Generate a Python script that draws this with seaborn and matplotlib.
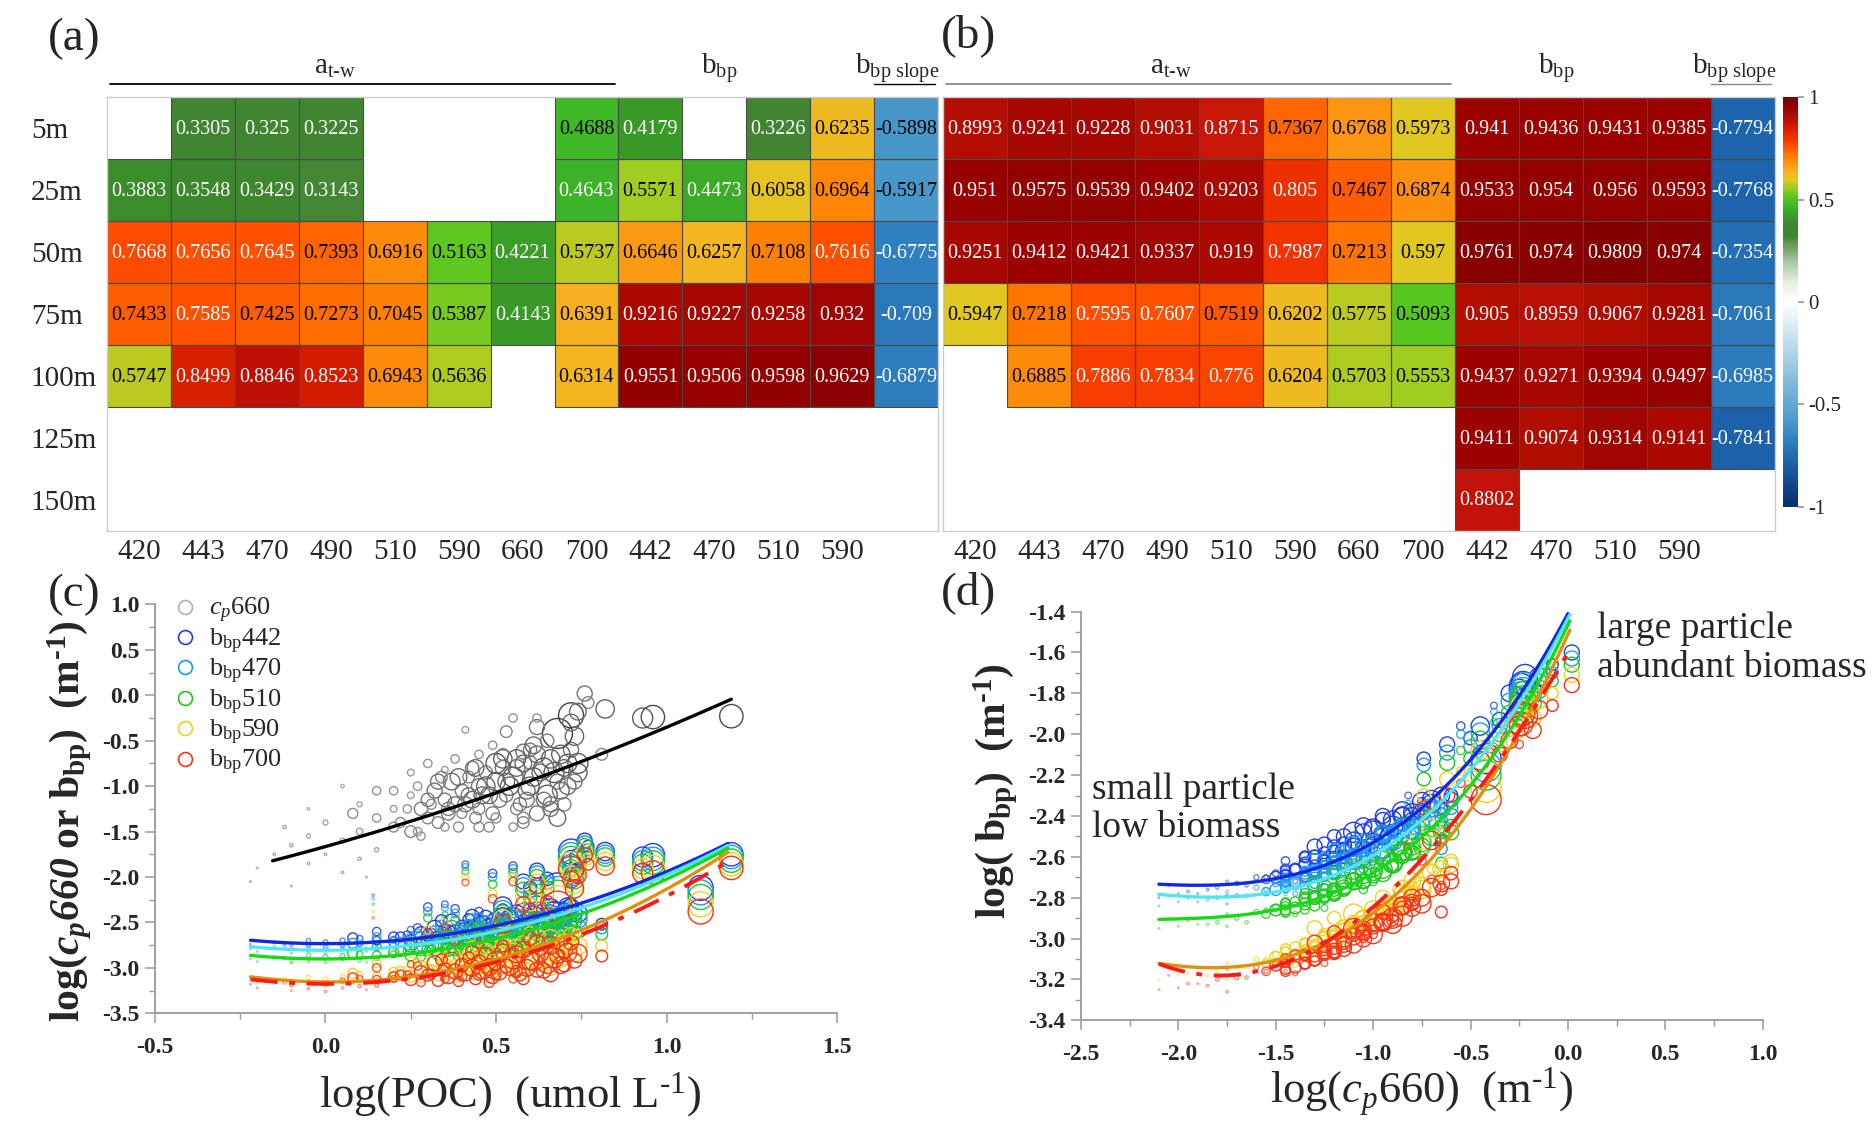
import numpy as np
import pandas as pd
import matplotlib
matplotlib.use("Agg")
import matplotlib.pyplot as plt
import seaborn as sns
from matplotlib.colors import LinearSegmentedColormap, to_rgba
from matplotlib.lines import Line2D
from matplotlib.patches import Rectangle
from matplotlib.ticker import MultipleLocator, FormatStrFormatter
from matplotlib.transforms import blended_transform_factory

sns.set_theme(style="ticks")
plt.rcParams["font.family"] = ["Liberation Serif", "DejaVu Serif"]
plt.rcParams["mathtext.fontset"] = "custom"
plt.rcParams["mathtext.rm"] = "Liberation Serif"
plt.rcParams["mathtext.it"] = "Liberation Serif:italic"
plt.rcParams["mathtext.bf"] = "Liberation Serif:bold"
plt.rcParams["mathtext.bfit"] = "Liberation Serif:bold:italic"
plt.rcParams["axes.unicode_minus"] = False

# ---------------- heatmap data ----------------
depths = ["5m", "25m", "50m", "75m", "100m", "125m", "150m"]
wl_labels = ["420", "443", "470", "490", "510", "590", "660", "700",
             "442", "470", "510", "590"]
NA = np.nan
corr_a = [
    [NA, 0.3305, 0.325, 0.3225, NA, NA, NA, 0.4688, 0.4179, NA, 0.3226, 0.6235, -0.5898],
    [0.3883, 0.3548, 0.3429, 0.3143, NA, NA, NA, 0.4643, 0.5571, 0.4473, 0.6058, 0.6964, -0.5917],
    [0.7668, 0.7656, 0.7645, 0.7393, 0.6916, 0.5163, 0.4221, 0.5737, 0.6646, 0.6257, 0.7108, 0.7616, -0.6775],
    [0.7433, 0.7585, 0.7425, 0.7273, 0.7045, 0.5387, 0.4143, 0.6391, 0.9216, 0.9227, 0.9258, 0.932, -0.709],
    [0.5747, 0.8499, 0.8846, 0.8523, 0.6943, 0.5636, NA, 0.6314, 0.9551, 0.9506, 0.9598, 0.9629, -0.6879],
    [NA] * 13,
    [NA] * 13,
]
corr_b = [
    [0.8993, 0.9241, 0.9228, 0.9031, 0.8715, 0.7367, 0.6768, 0.5973, 0.941, 0.9436, 0.9431, 0.9385, -0.7794],
    [0.951, 0.9575, 0.9539, 0.9402, 0.9203, 0.805, 0.7467, 0.6874, 0.9533, 0.954, 0.956, 0.9593, -0.7768],
    [0.9251, 0.9412, 0.9421, 0.9337, 0.919, 0.7987, 0.7213, 0.597, 0.9761, 0.974, 0.9809, 0.974, -0.7354],
    [0.5947, 0.7218, 0.7595, 0.7607, 0.7519, 0.6202, 0.5775, 0.5093, 0.905, 0.8959, 0.9067, 0.9281, -0.7061],
    [NA, 0.6885, 0.7886, 0.7834, 0.776, 0.6204, 0.5703, 0.5553, 0.9437, 0.9271, 0.9394, 0.9497, -0.6985],
    [NA, NA, NA, NA, NA, NA, NA, NA, 0.9411, 0.9074, 0.9314, 0.9141, -0.7841],
    [NA, NA, NA, NA, NA, NA, NA, NA, 0.8802, NA, NA, NA, NA],
]

# ---------------- scatter data (one entry per sample) ----------------
poc = [-0.22, -0.20, -0.15, -0.10, -0.10, -0.05, -0.05, 0.00, 0.00, 0.05, 0.05, 0.10, 0.10, 0.15, 0.15, 0.20, 0.20, 0.08, -0.12, 0.12, 0.14,
       0.22, 0.25, 0.25, 0.28, 0.30, 0.30, 0.32, 0.35, 0.35, 0.37, 0.38, 0.40, 0.40, 0.42, 0.43, 0.45, 0.45, 0.47, 0.48, 0.50,
       0.50, 0.52, 0.53, 0.55, 0.56, 0.58, 0.60, 0.60, 0.62, 0.63, 0.65, 0.66, 0.68, 0.70, 0.70, 0.72, 0.74, 0.45, 0.15, 0.55,
       0.76, 0.82, 0.72, 0.73, 0.93, 0.96, 1.19, 1.10, 0.68, 0.55, 0.62, 0.52, 0.41, 0.49, 0.58, 0.81, 0.77, 0.72, 0.65, 0.60, 0.35, 0.74]
cp660 = [-2.05, -1.90, -1.75, -2.10, -1.65, -1.55, -1.85, -1.40, -1.75, -1.60, -1.95, -1.50, -1.80, -1.35, -1.70, -1.45, -1.25, -1.30, -1.45, -2.00, NA,
         -1.40, -1.10, -1.50, -1.25, -0.75, -1.35, -1.05, -1.15, -1.45, -0.95, -1.20, -1.05, -1.30, -0.90, -1.15, -1.00, -1.25, -0.85, -1.10, -0.95,
         -1.35, -0.80, -1.10, -0.90, -1.25, -0.75, -1.00, -0.60, -1.30, -0.85, -1.10, -0.70, -0.95, -0.80, -1.20, -0.60, -0.85, -0.65, -1.05, -1.45,
         0.02, -0.15, -0.22, -0.45, -0.25, -0.24, -0.23, NA, -0.42, -0.25, -0.35, -0.70, -0.38, -0.55, -0.62, -0.65, -0.08, -0.30, -0.50, -0.74, -0.82, -0.18]
dia = [2, 2, 3, 2, 4, 5, 3, 6, 3, 6, 3, 8, 4, 10, 5, 12, 8, 12, 4, 2, 3,
       12, 8, 14, 16, 10, 14, 18, 16, 10, 20, 18, 16, 12, 14, 20, 18, 14, 16, 20, 22,
       12, 18, 16, 24, 14, 20, 22, 16, 18, 20, 24, 22, 18, 20, 16, 18, 22, 10, 10, 10,
       18, 22, 30, 22, 24, 28, 28, 30, 36, 10, 18, 22, 8, 10, 18, 14, 14, 20, 16, 16, 8, 20]
b442 = [-2.74, -2.78, -2.72, -2.80, -2.74, -2.70, -2.76, -2.72, -2.79, -2.70, -2.77, -2.68, -2.75, -2.70, -2.73, -2.66, -2.69, -2.67, -2.73, -2.78, -2.20,
        -2.66, -2.58, -2.70, -2.62, -2.33, -2.64, -2.56, -2.60, -2.68, -2.50, -2.61, -2.55, -2.64, -2.47, -2.57, -2.52, -2.62, -2.44, -2.55, -2.49,
        -2.60, -2.42, -2.53, -2.45, -2.58, -2.38, -2.47, -2.30, -2.55, -2.40, -2.48, -2.34, -2.42, -2.38, -2.50, -2.32, -2.40, -2.38, -2.60, -2.62,
        -1.60, -1.72, -1.72, -1.96, -1.78, -1.76, -1.75, -2.12, -2.12, -1.88, -1.93, -2.32, -1.86, -1.96, -2.05, -2.52, -1.66, -1.80, -2.02, -2.12, -2.30, -1.78]
b470 = [-2.79, -2.82, -2.77, -2.84, -2.79, -2.76, -2.81, -2.78, -2.83, -2.75, -2.80, -2.73, -2.80, -2.76, -2.79, -2.72, -2.75, -2.73, -2.78, -2.82, -2.24,
        -2.72, -2.64, -2.76, -2.68, -2.38, -2.70, -2.62, -2.66, -2.73, -2.57, -2.67, -2.61, -2.70, -2.53, -2.63, -2.58, -2.68, -2.50, -2.62, -2.56,
        -2.67, -2.48, -2.60, -2.52, -2.65, -2.45, -2.54, -2.36, -2.62, -2.47, -2.55, -2.41, -2.49, -2.45, -2.57, -2.40, -2.46, -2.44, -2.66, -2.70,
        -1.63, -1.75, -1.76, -1.99, -1.82, -1.80, -1.78, -2.17, -2.16, -1.91, -1.96, -2.36, -1.89, -2.00, -2.09, -2.56, -1.70, -1.84, -2.06, -2.15, -2.34, -1.81]
b510 = [-2.90, -2.93, -2.88, -2.95, -2.92, -2.86, -2.93, -2.88, -2.94, -2.87, -2.91, -2.85, -2.92, -2.86, -2.90, -2.83, -2.85, -2.84, -2.89, -2.94, -2.30,
        -2.82, -2.74, -2.86, -2.79, -2.45, -2.80, -2.72, -2.76, -2.84, -2.68, -2.78, -2.72, -2.80, -2.64, -2.74, -2.69, -2.79, -2.60, -2.72, -2.66,
        -2.78, -2.58, -2.71, -2.63, -2.76, -2.55, -2.65, -2.45, -2.73, -2.58, -2.66, -2.50, -2.60, -2.55, -2.68, -2.48, -2.57, -2.52, -2.76, -2.82,
        -1.66, -1.78, -1.80, -2.03, -1.86, -1.84, -1.82, -2.22, -2.20, -1.95, -2.00, -2.41, -1.94, -2.08, -2.14, -2.63, -1.74, -1.90, -2.12, -2.22, -2.42, -1.85]
b590 = [-3.13, -3.17, -3.12, -3.20, -3.14, -3.10, -3.18, -3.13, -3.20, -3.10, -3.17, -3.08, -3.16, -3.09, -3.14, -3.05, -3.07, -3.06, -3.12, -3.18, -2.38,
        -3.04, -2.92, -3.09, -3.00, -2.58, -3.03, -2.90, -2.96, -3.06, -2.86, -2.99, -2.92, -3.03, -2.84, -2.95, -2.88, -3.01, -2.80, -2.93, -2.86,
        -3.02, -2.76, -2.92, -2.84, -2.98, -2.74, -2.86, -2.62, -2.95, -2.78, -2.88, -2.68, -2.80, -2.72, -2.90, -2.64, -2.76, -2.68, -2.95, -3.06,
        -1.71, -1.83, -1.86, -2.08, -1.91, -1.89, -1.86, -2.30, -2.26, -2.00, -2.05, -2.46, -2.00, -2.18, -2.22, -2.76, -1.80, -1.97, -2.20, -2.30, -2.50, -1.92]
b700 = [-3.18, -3.22, -3.15, -3.25, -3.19, -3.16, -3.23, -3.17, -3.26, -3.14, -3.22, -3.12, -3.20, -3.13, -3.19, -3.10, -3.12, -3.11, -3.16, -3.24, -2.45,
        -3.08, -2.96, -3.13, -3.05, -2.62, -3.08, -2.95, -3.02, -3.12, -2.92, -3.04, -2.97, -3.09, -2.89, -3.00, -2.94, -3.07, -2.85, -2.99, -2.92,
        -3.08, -2.82, -2.98, -2.90, -3.04, -2.80, -2.92, -2.68, -3.02, -2.84, -2.95, -2.75, -2.87, -2.80, -2.97, -2.72, -2.84, -2.74, -3.00, -3.12,
        -1.76, -1.88, -1.91, -2.13, -1.96, -1.95, -1.90, -2.38, -2.32, -2.05, -2.10, -2.52, -2.06, -2.24, -2.30, -2.87, -1.86, -2.03, -2.28, -2.36, -2.55, -1.98]

# extra samples of the dense middle cloud
poc_x = [0.28, 0.33, 0.36, 0.39, 0.41, 0.44, 0.46, 0.49, 0.51, 0.54, 0.57, 0.59, 0.61, 0.64, 0.67,
         0.69, 0.71, 0.73, 0.31, 0.27, 0.43, 0.52, 0.38, 0.62, 0.48, 0.58, 0.66, 0.24, 0.34, 0.56]
cp660_x = [-1.55, -1.40, -1.30, -1.45, -1.20, -1.35, -1.10, -1.30, -1.15, -1.00, -1.20, -1.05, -0.90, -1.15, -0.85,
           -1.05, -0.75, -0.95, -1.20, -1.00, -0.80, -0.65, -0.70, -0.65, -1.45, -1.35, -1.25, -1.25, -0.90, -0.80]
dia_x = [10, 14, 16, 12, 18, 14, 20, 16, 18, 22, 16, 20, 22, 18, 24, 20, 22, 18, 12, 10, 16, 14, 10, 20, 12, 14, 18, 10, 14, 20]
b442_x = [-2.71, -2.66, -2.60, -2.69, -2.58, -2.63, -2.52, -2.60, -2.54, -2.46, -2.55, -2.48, -2.42, -2.50, -2.38,
          -2.45, -2.33, -2.40, -2.62, -2.56, -2.43, -2.36, -2.35, -2.30, -2.67, -2.60, -2.54, -2.64, -2.48, -2.40]
b470_x = [-2.77, -2.73, -2.68, -2.75, -2.65, -2.70, -2.60, -2.67, -2.62, -2.54, -2.63, -2.56, -2.50, -2.58, -2.46,
          -2.53, -2.41, -2.48, -2.68, -2.62, -2.48, -2.42, -2.40, -2.37, -2.74, -2.68, -2.62, -2.70, -2.54, -2.47]
b510_x = [-2.88, -2.85, -2.80, -2.87, -2.77, -2.83, -2.72, -2.80, -2.75, -2.67, -2.76, -2.69, -2.63, -2.71, -2.58,
          -2.66, -2.53, -2.61, -2.79, -2.72, -2.58, -2.51, -2.48, -2.47, -2.86, -2.81, -2.75, -2.81, -2.65, -2.57]
b590_x = [-3.12, -3.08, -3.05, -3.10, -3.00, -3.07, -2.97, -3.04, -2.99, -2.92, -3.01, -2.93, -2.87, -2.96, -2.82,
          -2.90, -2.76, -2.85, -3.02, -2.93, -2.78, -2.70, -2.66, -2.66, -3.11, -3.06, -3.00, -3.03, -2.86, -2.78]
b700_x = [-3.16, -3.14, -3.10, -3.15, -3.06, -3.12, -3.03, -3.10, -3.05, -2.98, -3.07, -3.00, -2.93, -3.03, -2.89,
          -2.97, -2.83, -2.92, -3.07, -2.98, -2.83, -2.76, -2.71, -2.73, -3.16, -3.12, -3.07, -3.08, -2.91, -2.85]

# samples with c_p(660) only
poc_g = [0.20, 0.25, 0.30, 0.33, 0.36, 0.39, 0.42, 0.44, 0.47, 0.50, 0.53, 0.56, 0.59, 0.61, 0.64,
         0.66, 0.69, 0.71, 0.74, 0.58, 0.45, 0.27, 0.10, 0.05, -0.05, 0.68, 0.53, 0.62]
cp660_g = [-1.05, -0.85, -1.15, -0.95, -1.25, -0.90, -1.10, -0.80, -1.00, -0.75, -0.95, -0.70, -1.15, -0.55, -0.80,
           -1.20, -0.65, -1.00, -0.75, -1.40, -1.45, -1.50, -1.20, -1.00, -1.25, -1.35, -0.40, -0.25]
dia_g = [10, 8, 16, 18, 16, 20, 18, 20, 22, 24, 20, 22, 18, 20, 24, 18, 22, 20, 24, 14, 12, 10, 6, 4, 3, 20, 14, 10]

# ---------------- fitted curves ----------------
c_fit_cp_x = [-0.155, 0.0, 0.25, 0.5, 0.75, 1.0, 1.19]
c_fit_cp_y = [-1.84, -1.65, -1.37, -1.07, -0.74, -0.38, -0.02]
c_fit_x = [-0.22, 0.05, 0.25, 0.5, 0.75, 1.0, 1.18]
c_fit_442 = [-2.70, -2.725, -2.68, -2.54, -2.29, -1.94, -1.63]
c_fit_470 = [-2.77, -2.80, -2.75, -2.60, -2.34, -1.98, -1.65]
c_fit_510 = [-2.87, -2.89, -2.84, -2.68, -2.41, -2.04, -1.67]
c_fit_590 = [-3.11, -3.14, -3.09, -2.90, -2.59, -2.17, -1.70]
c_fit_700 = [-3.14, -3.16, -3.11, -2.93, -2.64, -2.25, -1.80]

d_fit_x = [-2.10, -1.69, -1.35, -1.03, -0.78, -0.60, -0.43, -0.26, -0.09, 0.0]
d_fit_442 = [-2.736, -2.723, -2.68, -2.542, -2.387, -2.241, -2.029, -1.817, -1.588, -1.40]
d_fit_x470 = [-2.10, -1.69, -1.35, -1.03, -0.78, -0.60, -0.43, -0.26, -0.075, 0.01]
d_fit_470 = [-2.788, -2.78, -2.745, -2.615, -2.444, -2.29, -2.078, -1.857, -1.572, -1.417]
d_fit_510 = [-2.902, -2.894, -2.83, -2.681, -2.518, -2.371, -2.167, -1.931, -1.621, -1.433]
d_fit_x590 = [-2.10, -1.93, -1.69, -1.33, -1.03, -0.78, -0.60, -0.43, -0.26, -0.04, 0.01]
d_fit_590 = [-3.117, -3.146, -3.13, -3.065, -2.893, -2.681, -2.485, -2.273, -2.029, -1.588, -1.487]
d_fit_x700 = [-2.10, -1.93, -1.69, -1.32, -1.05, -0.78, -0.66, -0.50, -0.35, -0.21, -0.11, -0.006]
d_fit_700 = [-3.133, -3.162, -3.154, -3.089, -2.877, -2.649, -2.518, -2.306, -2.11, -1.947, -1.784, -1.604]

series_names = ["b442", "b470", "b510", "b590", "b700"]
pt_colors = ["#1f3fe6", "#1a9cf0", "#1ec81e", "#f0d21e", "#ff3214"]
line_colors = ["#1028e0", "#50e6f0", "#18d818", "#e0900a", "#ff1a1a"]

# ---------------- colormap ----------------
cm_nodes = [(-1.0, "#08306b"), (-0.8, "#1a5ea8"), (-0.68, "#2f80c0"), (-0.58, "#4a9acd"),
            (-0.5, "#62a8d4"), (-0.25, "#b0d2e8"), (0.0, "#ffffff"), (0.1, "#e2eedc"),
            (0.2, "#aac4a0"), (0.28, "#6a9a58"), (0.32, "#428434"), (0.38, "#3a8a2a"),
            (0.42, "#3a9a28"), (0.47, "#3cb528"), (0.52, "#5cc820"), (0.56, "#a0cc20"),
            (0.6, "#e0c820"), (0.64, "#f8b020"), (0.68, "#fc9410"), (0.72, "#ff7a00"),
            (0.76, "#ff5400"), (0.8, "#f53400"), (0.85, "#d82000"), (0.88, "#c41408"),
            (0.92, "#ac0a00"), (0.95, "#980000"), (1.0, "#7a0000")]
cmap = LinearSegmentedColormap.from_list("corr", [((v + 1) / 2, c) for v, c in cm_nodes])

fig = plt.figure(figsize=(18.76, 11.26), dpi=100)
fig.patch.set_facecolor("white")

ax_a = fig.add_axes([0.0571, 0.5287, 0.4429, 0.3848])
ax_b = fig.add_axes([0.5028, 0.5287, 0.4432, 0.3848])
cax = fig.add_axes([0.9502, 0.5500, 0.0083, 0.3635])


def draw_heat(ax, mat, line_col, with_rows, cbar_ax=None):
    arr = np.array(mat, dtype=float)
    sns.heatmap(arr, ax=ax, cmap=cmap, vmin=-1, vmax=1, linewidths=0,
                xticklabels=False, yticklabels=False,
                cbar=cbar_ax is not None, cbar_ax=cbar_ax,
                cbar_kws={"ticks": [-1, -0.5, 0, 0.5, 1]} if cbar_ax is not None else None)
    for i, row in enumerate(mat):
        for j, v in enumerate(row):
            if np.isnan(v):
                continue
            ax.add_patch(Rectangle((j, i), 1, 1, fill=False, edgecolor="#4a4a4a", lw=0.8))
            white = (v > 0.755) or (v < -0.6) or (0 < v < 0.466)
            ax.text(j + 0.5, i + 0.52, f"{v:g}", ha="center", va="center",
                    fontsize=14.5, color="white" if white else "black")
    for sp in ax.spines.values():
        sp.set_visible(True)
        sp.set_color("#cccccc")
        sp.set_linewidth(1.0)
    ax.set_xticks(np.arange(len(wl_labels)) + 0.5)
    ax.set_xticklabels(wl_labels, fontsize=21)
    ax.tick_params(axis="x", length=0, pad=6)
    if with_rows:
        ax.set_yticks(np.arange(len(depths)) + 0.5)
        ax.set_yticklabels(depths, fontsize=21, rotation=0)
        for lab in ax.get_yticklabels():
            lab.set_horizontalalignment("left")
        ax.tick_params(axis="y", length=0, pad=55)
    else:
        ax.set_yticks([])
    tr = blended_transform_factory(ax.transData, ax.transAxes)
    ax.text(3.56, 1.055, r"a$_{\rm t‐w}$", transform=tr, ha="center", va="baseline", fontsize=21)
    ax.text(9.58, 1.055, r"b$_{\rm bp}$", transform=tr, ha="center", va="baseline", fontsize=21)
    ax.text(12.36, 1.055, r"b$_{\rm bp\ slope}$", transform=tr, ha="center", va="baseline", fontsize=21)
    ax.plot([0.05, 7.94], [1.031, 1.031], transform=tr, color=line_col, lw=1.3, clip_on=False)
    ax.plot([12.0, 12.95], [1.031, 1.031], transform=tr, color=line_col, lw=1.0, clip_on=False)


draw_heat(ax_a, corr_a, "black", True)
draw_heat(ax_b, corr_b, "#888888", False, cbar_ax=cax)
cbar = ax_b.collections[0].colorbar
cbar.outline.set_edgecolor("#999999")
cbar.ax.set_yticklabels(["-1", "-0.5", "0", "0.5", "1"], fontsize=15)
cbar.ax.tick_params(length=4, color="#999999", pad=3)

fig.text(0.0394, 0.9654, "(a)", fontsize=34, ha="center", va="center")
fig.text(0.5165, 0.9680, "(b)", fontsize=34, ha="center", va="center")
fig.text(0.0397, 0.4716, "(c)", fontsize=34, ha="center", va="center")
fig.text(0.5160, 0.4734, "(d)", fontsize=34, ha="center", va="center")

# ---------------- scatter panels ----------------
df_main = pd.DataFrame({"poc": poc, "cp": cp660, "dia": dia, "b442": b442, "b470": b470,
                        "b510": b510, "b590": b590, "b700": b700})
df_extra = pd.DataFrame({"poc": poc_x, "cp": cp660_x, "dia": dia_x, "b442": b442_x, "b470": b470_x,
                         "b510": b510_x, "b590": b590_x, "b700": b700_x})
df_gray = pd.DataFrame({"poc": poc_g, "cp": cp660_g, "dia": dia_g})
df = pd.concat([df_main, df_extra, df_gray], ignore_index=True)
df["area"] = (0.6 * df["dia"]) ** 2


def gray_edges(d):
    g = np.clip(0.74 - 0.016 * d, 0.24, 0.74)
    return [(x, x, x, 1.0) for x in g]


def col_edges(col, d):
    a = np.clip(0.3 + d / 18.0, 0.3, 1.0)
    return [to_rgba(col, alpha=x) for x in a]


ax_c = fig.add_axes([0.0826, 0.1001, 0.3636, 0.3631])
sub = df.dropna(subset=["cp"])
sns.scatterplot(x=sub["poc"].to_numpy(), y=sub["cp"].to_numpy(), s=sub["area"].to_numpy(),
                facecolor="none", edgecolor=gray_edges(sub["dia"].to_numpy()), linewidth=1.0,
                ax=ax_c, legend=False)
for n, col in zip(series_names, pt_colors):
    sub = df.dropna(subset=[n])
    sns.scatterplot(x=sub["poc"].to_numpy(), y=sub[n].to_numpy(), s=sub["area"].to_numpy(),
                    facecolor="none", edgecolor=col_edges(col, sub["dia"].to_numpy()),
                    linewidth=1.0, ax=ax_c, legend=False)
sns.regplot(x=np.array(c_fit_cp_x), y=np.array(c_fit_cp_y), order=2, ci=None, scatter=False,
            color="black", line_kws={"lw": 2.4}, ax=ax_c)
c_fits = [c_fit_442, c_fit_470, c_fit_510, c_fit_590, c_fit_700]
for k, (fy, col) in enumerate(zip(c_fits, line_colors)):
    lk = {"lw": 2.4} if k < 4 else {"lw": 2.8, "ls": (0, (7, 3, 1.5, 3))}
    sns.regplot(x=np.array(c_fit_x), y=np.array(fy), order=2, ci=None, scatter=False,
                color=col, line_kws=lk, ax=ax_c)

ax_d = fig.add_axes([0.5762, 0.0938, 0.3634, 0.3631])
for n, col in zip(series_names, pt_colors):
    sub = df.dropna(subset=["cp", n])
    sns.scatterplot(x=sub["cp"].to_numpy(), y=sub[n].to_numpy(), s=sub["area"].to_numpy(),
                    facecolor="none", edgecolor=col_edges(col, sub["dia"].to_numpy()),
                    linewidth=1.0, ax=ax_d, legend=False)
d_fits = [(d_fit_x, d_fit_442), (d_fit_x470, d_fit_470), (d_fit_x470, d_fit_510),
          (d_fit_x590, d_fit_590), (d_fit_x700, d_fit_700)]
for k, ((fx, fy), col) in enumerate(zip(d_fits, line_colors)):
    lk = {"lw": 2.4} if k < 4 else {"lw": 2.8, "ls": (0, (7, 3, 1.5, 3))}
    sns.regplot(x=np.array(fx), y=np.array(fy), order=3, ci=None, scatter=False,
                color=col, line_kws=lk, ax=ax_d)


def style_axes(ax, xlim, ylim, xmaj, xmin, ymaj, ymin):
    ax.set_xlim(*xlim)
    ax.set_ylim(*ylim)
    ax.xaxis.set_major_locator(MultipleLocator(xmaj))
    ax.xaxis.set_minor_locator(MultipleLocator(xmin))
    ax.yaxis.set_major_locator(MultipleLocator(ymaj))
    ax.yaxis.set_minor_locator(MultipleLocator(ymin))
    ax.xaxis.set_major_formatter(FormatStrFormatter("%.1f"))
    ax.yaxis.set_major_formatter(FormatStrFormatter("%.1f"))
    ax.spines["top"].set_visible(False)
    ax.spines["right"].set_visible(False)
    for s in ("left", "bottom"):
        ax.spines[s].set_color("#999999")
        ax.spines[s].set_linewidth(1.3)
    ax.tick_params(which="major", direction="out", length=7, width=1.1, color="#999999",
                   labelsize=17, pad=4)
    ax.tick_params(which="minor", direction="out", length=4, width=1.0, color="#999999")
    ax.tick_params(axis="x", which="major", pad=10)
    plt.setp(ax.get_xticklabels(), fontweight="bold")
    plt.setp(ax.get_yticklabels(), fontweight="bold")


style_axes(ax_c, (-0.5, 1.5), (-3.5, 1.0), 0.5, 0.25, 0.5, 0.25)
style_axes(ax_d, (-2.5, 1.0), (-3.4, -1.4), 0.5, 0.25, 0.2, 0.1)

ax_c.set_xlabel(r"log(POC)  (umol L$^{\rm ‐1}$)", fontsize=32)
ax_c.xaxis.set_label_coords(0.52, -0.14)
ax_c.set_ylabel(r"$\mathbf{log(}\mathbfit{c}_{\mathbfit{p}}\mathbfit{660}\mathbf{\ or\ b}_{\mathbf{bp}}\mathbf{)\ \ (m}^{\mathbf{‐1}}\mathbf{)}$",
                fontsize=30)
ax_c.yaxis.set_label_coords(-0.09, 0.47)

ax_d.set_xlabel(r"log($c_p\mathit{660}$)  (m$^{\rm ‐1}$)", fontsize=32)
ax_d.xaxis.set_label_coords(0.50, -0.11)
ax_d.set_ylabel(r"$\mathbf{log(\ b}_{\mathbf{bp}}\mathbf{)\ \ (m}^{\mathbf{‐1}}\mathbf{)}$", fontsize=30)
ax_d.yaxis.set_label_coords(-0.09, 0.56)

ax_d.text(0.148, -1.40, "large particle\nabundant biomass", fontsize=27, ha="left", va="top",
          linespacing=1.15, clip_on=False)
ax_d.text(-2.442, -2.185, "small particle\nlow biomass", fontsize=27, ha="left", va="top",
          linespacing=1.15)

leg_labels = [r"$c_p\mathit{660}$", r"b$_{\rm bp}$442", r"b$_{\rm bp}$470",
              r"b$_{\rm bp}$510", r"b$_{\rm bp}$590", r"b$_{\rm bp}$700"]
leg_cols = ["#b0b0b0"] + pt_colors
handles = [Line2D([], [], marker="o", ls="none", mfc="none", mec=c, ms=10, mew=1.2) for c in leg_cols]
ax_c.legend(handles, leg_labels, loc="upper left", bbox_to_anchor=(0.025, 1.02), frameon=False,
            fontsize=19, handlelength=1.0, handletextpad=0.4, labelspacing=0.05, borderpad=0,
            borderaxespad=0)

fig.savefig("out.png", dpi=100, facecolor="white")
